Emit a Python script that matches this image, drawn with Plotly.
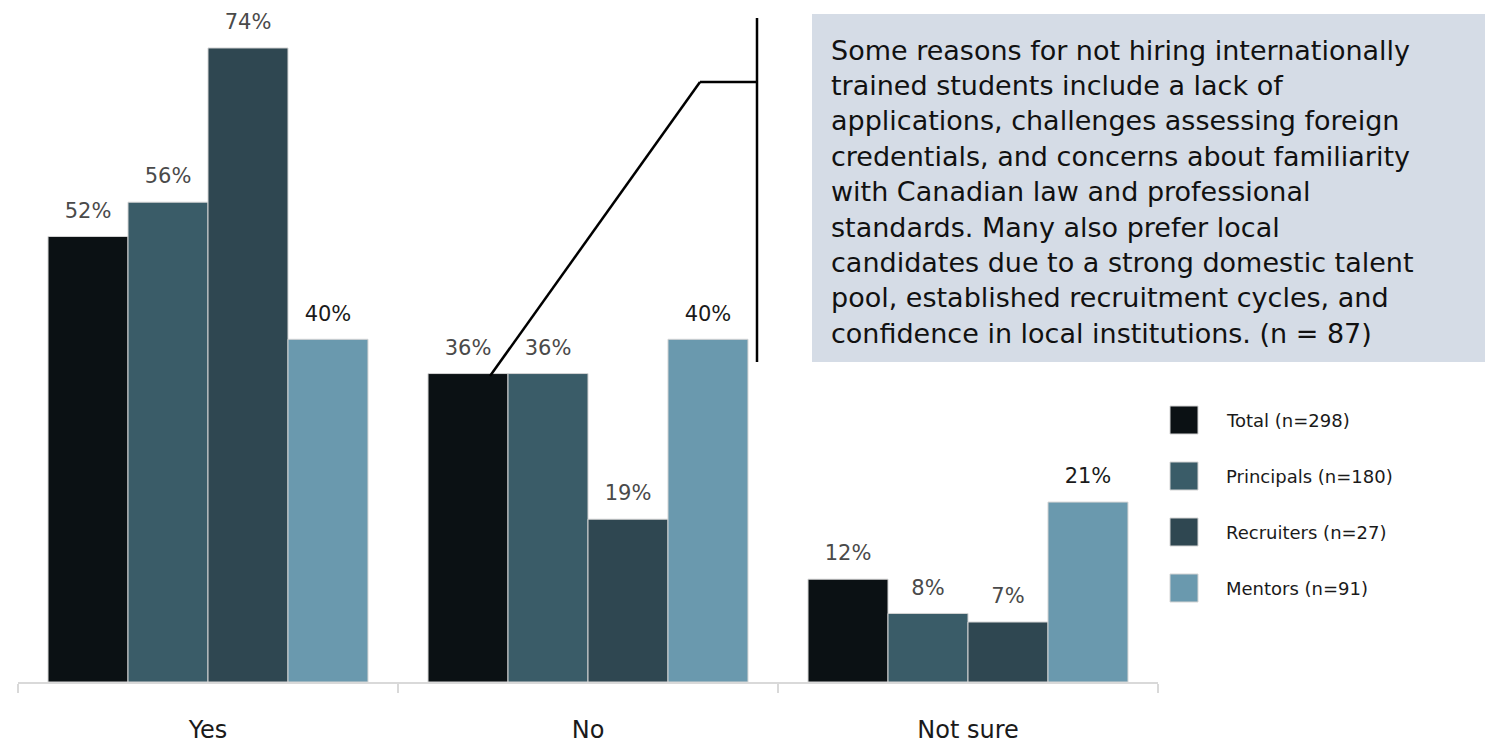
import plotly.graph_objects as go

# Survey responses by respondent group (%)
categories = ["Yes", "No", "Not sure"]
series_names = ["Total (n=298)", "Principals (n=180)", "Recruiters (n=27)", "Mentors (n=91)"]
total = [52, 36, 12]
principals = [56, 36, 8]
recruiters = [74, 19, 7]
mentors = [40, 40, 21]
series_values = [total, principals, recruiters, mentors]

colors = ["#0b1114", "#3a5c68", "#2f4751", "#6a99ae"]
label_colors = ["#4a4a4a", "#4a4a4a", "#4a4a4a", "#1a1a1a"]

note_lines = [
    "Some reasons for not hiring internationally",
    "trained students include a lack of",
    "applications, challenges assessing foreign",
    "credentials, and concerns about familiarity",
    "with Canadian law and professional",
    "standards. Many also prefer local",
    "candidates due to a strong domestic talent",
    "pool, established recruitment cycles, and",
    "confidence in local institutions. (n = 87)",
]

W, H = 1485, 744
L, R, T, B = 18, 327, 0, 62
PW, PH = W - L - R, H - T - B
FONT = "'DejaVu Sans', sans-serif"


def px(x):
    return (x - L) / PW


def py(y):
    return (H - B - y) / PH


fig = go.Figure()
for name, vals, col, lc in zip(series_names, series_values, colors, label_colors):
    fig.add_trace(go.Bar(
        x=categories, y=vals, name=name, offsetgroup=name,
        marker=dict(color=col, line=dict(color="#d4d4d4", width=1)),
        showlegend=False, hoverinfo="skip",
    ))
    # value labels, lifted clear of the bar tops by an invisible marker
    fig.add_trace(go.Scatter(
        x=categories, y=vals, mode="markers+text", offsetgroup=name,
        marker=dict(size=20, opacity=0),
        text=[f"{v}%" for v in vals], textposition="top center",
        textfont=dict(family=FONT, size=21, color=lc),
        showlegend=False, hoverinfo="skip", cliponaxis=False,
    ))

shapes = []
annotations = []

# Legend drawn as square swatches with labels
for i, (name, col) in enumerate(zip(series_names, colors)):
    cy = 420 + i * 56
    shapes.append(dict(type="rect", xref="paper", yref="paper",
                       x0=px(1170), x1=px(1198), y0=py(cy + 14), y1=py(cy - 14),
                       fillcolor=col, line=dict(color="#d4d4d4", width=1)))
    annotations.append(dict(xref="paper", yref="paper", x=px(1224), y=py(cy),
                            text=name, showarrow=False, xanchor="left", yanchor="middle",
                            font=dict(family=FONT, size=18, color="#1a1a1a")))

# Note box with callout bracket
shapes.append(dict(type="rect", xref="paper", yref="paper",
                   x0=px(812), x1=px(1485), y0=py(362), y1=py(14),
                   fillcolor="#d5dce6", line=dict(width=0), layer="below"))
for (x0, y0, x1, y1) in [(490, 376, 700, 82), (700, 82, 757, 82), (757, 18, 757, 362)]:
    shapes.append(dict(type="line", xref="paper", yref="paper",
                       x0=px(x0), y0=py(y0), x1=px(x1), y1=py(y1),
                       line=dict(color="#000000", width=2.5)))
for j, line in enumerate(note_lines):
    annotations.append(dict(xref="paper", yref="paper", x=px(829), y=py(50 + j * 35.4),
                            text=line, showarrow=False, xanchor="left", yanchor="middle",
                            font=dict(family=FONT, size=27, color="#111111")))

fig.update_layout(
    width=W, height=H,
    margin=dict(l=L, r=R, t=T, b=B),
    paper_bgcolor="white", plot_bgcolor="white",
    barmode="group", bargap=0.158, bargroupgap=0,
    scattermode="group", scattergap=0.158,
    shapes=shapes, annotations=annotations,
    xaxis=dict(showline=True, linecolor="#d9d9d9", linewidth=2,
               ticks="outside", tickson="boundaries", ticklen=9, tickcolor="#d9d9d9",
               tickwidth=1.5, tickfont=dict(family=FONT, size=24, color="#1a1a1a"),
               ticklabelstandoff=25, showgrid=False),
    yaxis=dict(range=[0, 79.6], visible=False, showgrid=False, zeroline=False),
    showlegend=False,
)

fig.write_html("out.html")
